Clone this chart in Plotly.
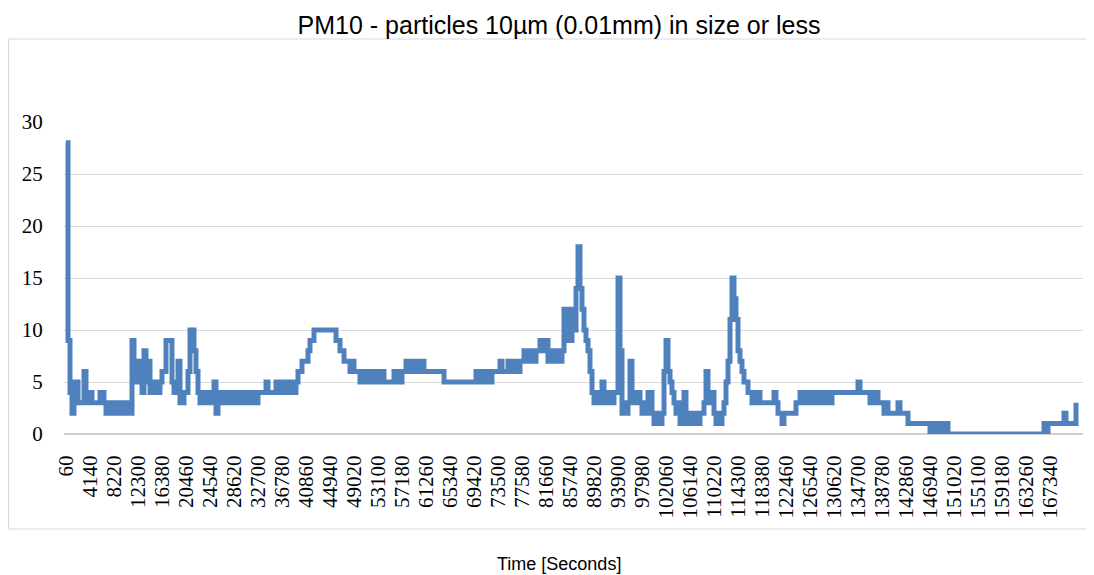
import plotly.graph_objects as go

# Sampling: one value every 340 seconds, starting at 60 s
start_s = 60
step_s = 340

# PM10 readings (12 samples per labelled interval)
pm10 = [
    28, 9, 4, 2, 5, 5, 3, 3, 3, 6, 4, 3,
    4, 3, 3, 3, 3, 4, 4, 3, 2, 3, 2, 3,
    2, 3, 2, 3, 2, 3, 2, 3, 2, 9, 5, 7,
    5, 7, 4, 8, 5, 7, 4, 5, 4, 5, 4, 5,
    6, 6, 9, 9, 9, 5, 4, 5, 7, 3, 3, 4,
    4, 6, 10, 10, 8, 6, 4, 3, 4, 3, 4, 3,
    4, 3, 5, 2, 4, 3, 4, 3, 4, 3, 4, 3,
    4, 3, 4, 3, 4, 3, 4, 3, 4, 3, 4, 3,
    4, 4, 4, 4, 5, 4, 4, 4, 4, 5, 4, 5,
    4, 5, 4, 5, 4, 5, 4, 5, 6, 6, 7, 7,
    7, 8, 9, 9, 10, 10, 10, 10, 10, 10, 10, 10,
    10, 10, 10, 9, 9, 8, 8, 7, 7, 7, 6, 7,
    6, 6, 6, 5, 6, 5, 6, 5, 6, 5, 6, 5,
    6, 5, 6, 5, 5, 5, 5, 5, 6, 5, 6, 5,
    6, 6, 7, 6, 7, 6, 7, 6, 7, 6, 7, 6,
    6, 6, 6, 6, 6, 6, 6, 6, 6, 5, 5, 5,
    5, 5, 5, 5, 5, 5, 5, 5, 5, 5, 5, 5,
    5, 6, 5, 6, 5, 6, 5, 6, 5, 6, 6, 6,
    6, 7, 6, 6, 6, 7, 6, 7, 6, 7, 6, 7,
    7, 8, 7, 8, 7, 8, 7, 8, 8, 9, 9, 8,
    9, 7, 8, 7, 8, 7, 8, 7, 8, 12, 9, 12,
    9, 12, 10, 14, 18, 14, 12, 10, 9, 8, 6, 4,
    3, 4, 3, 4, 5, 3, 4, 3, 4, 3, 4, 4,
    15, 8, 2, 3, 2, 3, 7, 3, 4, 3, 4, 3,
    2, 3, 2, 4, 4, 2, 1, 2, 1, 1, 2, 6,
    9, 6, 5, 4, 3, 2, 3, 1, 1, 4, 1, 2,
    1, 2, 1, 2, 1, 2, 2, 3, 6, 4, 3, 4,
    2, 1, 2, 1, 2, 3, 5, 7, 11, 15, 13, 11,
    8, 7, 6, 5, 5, 4, 4, 3, 4, 3, 4, 3,
    3, 3, 3, 3, 3, 3, 4, 3, 2, 2, 1, 2,
    2, 2, 2, 2, 2, 3, 3, 4, 3, 4, 3, 4,
    3, 4, 3, 4, 3, 4, 3, 4, 3, 4, 3, 4,
    4, 4, 4, 4, 4, 4, 4, 4, 4, 4, 4, 4,
    5, 4, 4, 4, 4, 4, 3, 4, 3, 4, 3, 3,
    3, 2, 3, 2, 2, 2, 2, 2, 3, 2, 2, 2,
    2, 1, 1, 1, 1, 1, 1, 1, 1, 1, 1, 1,
    0, 1, 0, 1, 0, 1, 0, 1, 1, 0, 0, 0,
    0, 0, 0, 0, 0, 0, 0, 0, 0, 0, 0, 0,
    0, 0, 0, 0, 0, 0, 0, 0, 0, 0, 0, 0,
    0, 0, 0, 0, 0, 0, 0, 0, 0, 0, 0, 0,
    0, 0, 0, 0, 0, 0, 0, 0, 0, 1, 0, 1,
    1, 1, 1, 1, 1, 1, 1, 2, 1, 1, 1, 1,
    1, 3,
]
time_s = [start_s + step_s * i for i in range(len(pm10))]

# Category labels shown on the axis (every 4080 s)
tick_labels = [60 + 4080 * k for k in range(42)]
y_ticks = [0, 5, 10, 15, 20, 25, 30]

title_text = "PM10 - particles 10µm (0.01mm) in size or less"
x_title = "Time [Seconds]"

# The page body has an 8px margin, so the figure is laid out in page px minus 8
OFF = 8
W, H = 1094 - OFF, 575 - OFF
L, R, T, B = 64 - OFF, 1083 - OFF, 122 - OFF, 434 - OFF

fig = go.Figure()
fig.add_trace(go.Scatter(
    x=time_s, y=pm10, mode="lines",
    line=dict(color="#4F81BD", width=5, shape="hv"),
    hoverinfo="x+y", showlegend=False,
))

s_per_px = 170.0
x0 = start_s - (66 - 64) * s_per_px
x1 = start_s + (1083 - 66) * s_per_px

fig.update_layout(
    width=W, height=H,
    margin=dict(l=L, r=W - R, t=T, b=H - B, pad=0),
    paper_bgcolor="white", plot_bgcolor="white",
    title=dict(text=title_text, x=(559 - OFF) / W, xanchor="center",
               y=1 - (25 - OFF) / H, yanchor="middle",
               font=dict(family="Liberation Sans, Arial", size=25, color="#000000")),
    xaxis=dict(
        range=[x0, x1], tickmode="array", tickvals=tick_labels,
        ticktext=[str(v) for v in tick_labels], tickangle=-90,
        showgrid=False, zeroline=False, showline=False,
        ticks="outside", ticklen=12, tickcolor="rgba(0,0,0,0)",
        tickfont=dict(family="Liberation Serif, Times New Roman, serif", size=21, color="#000000"),
    ),
    yaxis=dict(
        range=[0, 30], tickmode="array", tickvals=y_ticks,
        showgrid=True, gridcolor="#D9D9D9", gridwidth=1.3,
        zeroline=True, zerolinecolor="#D0D0D0", zerolinewidth=1.5,
        showline=False, ticks="outside", ticklen=16, tickcolor="rgba(0,0,0,0)",
        tickfont=dict(family="Liberation Serif, Times New Roman, serif", size=21, color="#000000"),
    ),
)

pw, ph = R - L, B - T
def px_x(p):
    return (p - OFF - L) / pw
def px_y(p):
    return (B - (p - OFF)) / ph

fig.add_shape(type="rect", xref="paper", yref="paper",
              x0=px_x(8.5), x1=px_x(1092), y0=px_y(529), y1=px_y(39),
              line=dict(color="#D9D9D9", width=1.2), fillcolor="rgba(0,0,0,0)", layer="below")

fig.add_annotation(text=x_title, xref="paper", yref="paper",
                   x=px_x(559), y=px_y(564), xanchor="center", yanchor="middle",
                   showarrow=False,
                   font=dict(family="Liberation Sans, Arial", size=18, color="#000000"))

fig.write_html("out.html")
